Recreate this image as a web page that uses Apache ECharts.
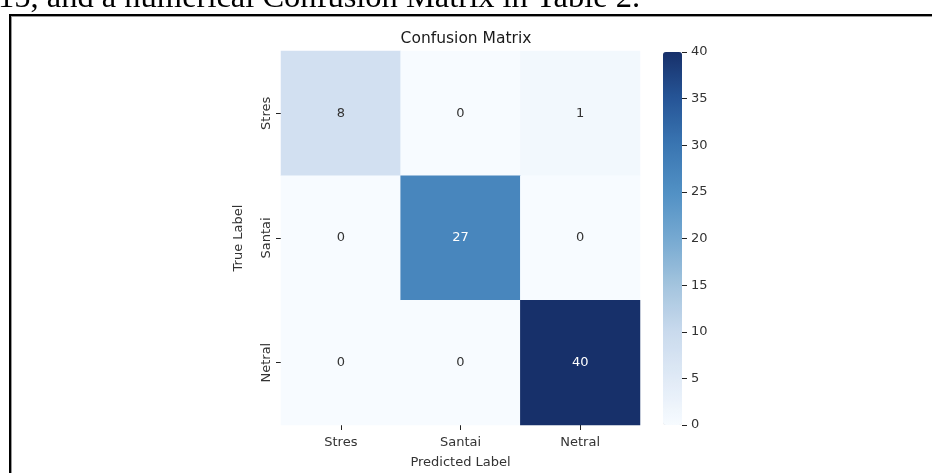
<!DOCTYPE html>
<html>
<head>
<meta charset="utf-8">
<script src="https://cdn.jsdelivr.net/npm/echarts@6/dist/echarts.min.js"></script>
<style>
html,body{margin:0;padding:0;background:#fff;}
#chart{width:932px;height:473px;}
</style>
</head>
<body>
<div id="chart"></div>
<script>
// Data
var predictedLabels = ['Stres', 'Santai', 'Netral'];
var trueLabels = ['Stres', 'Santai', 'Netral'];
var rowStres = [8, 0, 1];
var rowSantai = [0, 27, 0];
var rowNetral = [0, 0, 40];
var colorbarTicks = [0, 5, 10, 15, 20, 25, 30, 35, 40];
var titleText = 'Confusion Matrix';
var captionText = '15, and a numerical Confusion Matrix in Table 2.';

var rows = [rowStres, rowSantai, rowNetral];
var heatData = [];
rows.forEach(function (r, yi) {
  r.forEach(function (v, xi) { heatData.push([xi, yi, v]); });
});
var vmin = colorbarTicks[0], vmax = colorbarTicks[colorbarTicks.length - 1];
var blues = ['#f7fbff', '#e0eaf6', '#c9daed', '#a3c4de', '#76a9d1', '#5190c4', '#3a76b2', '#265597', '#17306a'];

var chart = echarts.init(document.getElementById('chart'), null, {renderer: 'canvas'});
var font = 'DejaVu Sans';
var tickStyle = {color: '#222', width: 1};
chart.setOption({
  animation: false,
  backgroundColor: '#fff',
  textStyle: {fontFamily: font},
  title: {
    text: titleText, left: 461, top: 26, textAlign: 'center',
    textStyle: {fontFamily: font, fontSize: 15.5, fontWeight: 'normal', color: '#1a1a1a'}
  },
  grid: [
    {left: 281, top: 51, width: 359, height: 374, containLabel: false, outerBoundsMode: 'none'},
    {left: 663, top: 52, width: 19, height: 373, containLabel: false, outerBoundsMode: 'none'}
  ],
  xAxis: [
    {
      type: 'category', data: predictedLabels, gridIndex: 0,
      name: 'Predicted Label', nameLocation: 'middle', nameGap: 31,
      nameTextStyle: {fontFamily: font, fontSize: 13, color: '#333'},
      axisLine: {show: false, onZero: false}, splitLine: {show: false},
      axisTick: {show: true, alignWithLabel: true, length: 5, lineStyle: tickStyle},
      axisLabel: {fontFamily: font, fontSize: 13, color: '#333', margin: 11}
    },
    {type: 'category', data: ['cb'], gridIndex: 1, show: false}
  ],
  yAxis: [
    {
      type: 'category', data: trueLabels, gridIndex: 0, inverse: true,
      name: 'True Label', nameLocation: 'middle', nameGap: 36, nameRotate: 90,
      nameTextStyle: {fontFamily: font, fontSize: 13, color: '#333'},
      axisLine: {show: false, onZero: false}, splitLine: {show: false},
      axisTick: {show: true, alignWithLabel: true, length: 5, lineStyle: tickStyle},
      axisLabel: {fontFamily: font, fontSize: 13, color: '#333', rotate: 90, margin: 8}
    },
    {
      type: 'value', gridIndex: 1, position: 'right', min: vmin, max: vmax, interval: 5,
      axisLine: {show: false, onZero: false}, splitLine: {show: false},
      axisTick: {show: true, inside: false, length: 5, lineStyle: tickStyle},
      axisLabel: {fontFamily: font, fontSize: 13, color: '#333', margin: 9}
    }
  ],
  visualMap: {
    type: 'continuous', min: vmin, max: vmax, calculable: false,
    seriesIndex: 0, orient: 'vertical', left: 663, top: 52,
    itemWidth: 19, itemHeight: 373, padding: 0, text: null, showLabel: false,
    inRange: {color: blues}
  },
  series: [
    {
      type: 'heatmap', xAxisIndex: 0, yAxisIndex: 0, data: heatData,
      itemStyle: {borderWidth: 0},
      label: {
        show: true,
        formatter: function (p) { return p.value[2] > vmax * 0.5 ? '{w|' + p.value[2] + '}' : '{d|' + p.value[2] + '}'; },
        rich: {w: {color: '#ffffff', fontSize: 13, fontFamily: font}, d: {color: '#333', fontSize: 13, fontFamily: font}}
      }
    },
    {type: 'line', xAxisIndex: 1, yAxisIndex: 1, data: [], silent: true}
  ],
  graphic: [
    {type: 'text', left: -2, top: -18, style: {text: captionText, font: '32.5px "Liberation Serif"', fill: '#000'}},
    {type: 'rect', shape: {x: 9, y: 14, width: 940, height: 2}, style: {fill: '#000'}},
    {type: 'rect', shape: {x: 9, y: 16, width: 940, height: 1}, style: {fill: '#999'}},
    {type: 'rect', shape: {x: 9, y: 14, width: 2, height: 470}, style: {fill: '#000'}},
    {type: 'rect', shape: {x: 11, y: 16, width: 1, height: 470}, style: {fill: '#999'}}
  ]
});
</script>
</body>
</html>
